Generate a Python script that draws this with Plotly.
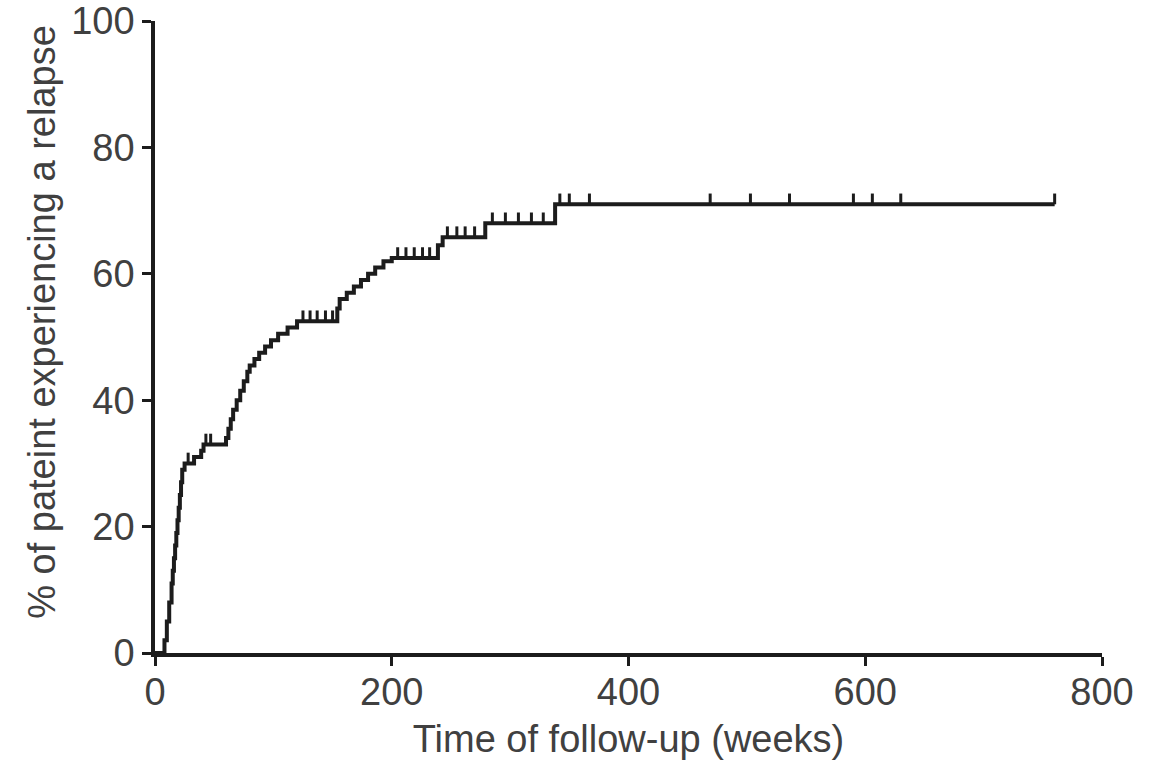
import plotly.graph_objects as go
import numpy as np

# Event times (weeks) and cumulative % of patients relapsed after each event
event_weeks = [0, 8, 10, 12, 14, 15, 16, 17, 18, 19, 20, 21, 22, 23, 25, 33, 39, 41,
               60, 62, 64, 66, 69, 72, 75, 78, 80, 84, 88, 93, 98, 104, 112, 120,
               154, 156, 162, 168, 174, 180, 186, 193, 200,
               239, 243, 279, 338, 760]
relapse_pct = [0, 2, 5, 8, 11, 13, 15, 17, 19, 21, 23, 25, 27, 29, 30, 31, 32, 33,
               34, 35.5, 37, 38.5, 40, 41.5, 43, 44.5, 45.5, 46.5, 47.5, 48.5, 49.5, 50.5, 51.5, 52.5,
               54.5, 56, 57, 58, 59, 60, 61, 62, 62.5,
               64.5, 65.8, 68, 71, 71]

# Censored observations (weeks)
censor_weeks = [28, 43, 47, 125, 131, 137, 144, 150, 205, 212, 219, 226, 232,
                247, 255, 262, 270, 285, 296, 307, 318, 328,
                342, 350, 367, 469, 503, 536, 590, 606, 630, 760]

x_ticks = [0, 200, 400, 600, 800]
y_ticks = [0, 20, 40, 60, 80, 100]

# y of curve at each censor time (step lookup)
ev = np.array(event_weeks)
pc = np.array(relapse_pct)
censor_pct = [float(pc[np.searchsorted(ev, c, side="right") - 1]) for c in censor_weeks]

INK = "#1c1c1c"
TXT = "#404040"
FONT = "Liberation Sans, Arial, sans-serif"

fig = go.Figure()
fig.add_trace(go.Scatter(
    x=event_weeks, y=relapse_pct, mode="lines", line_shape="hv",
    line=dict(color=INK, width=4), cliponaxis=False, showlegend=False,
))
fig.add_trace(go.Scatter(
    x=censor_weeks, y=censor_pct, mode="markers",
    marker=dict(size=1, color=INK, opacity=0),
    error_y=dict(type="constant", value=1.7, valueminus=0, symmetric=False,
                 thickness=3, width=0, color=INK),
    cliponaxis=False, showlegend=False,
))

axis_common = dict(
    showline=True, linewidth=3.5, linecolor=INK, mirror=False,
    ticks="outside", ticklen=9, tickwidth=2.5, tickcolor=INK,
    showgrid=False, zeroline=False, automargin=False, ticklabeloverflow="allow",
    tickfont=dict(family=FONT, size=38, color=TXT),
)
fig.update_layout(
    width=1160, height=765,
    margin=dict(l=155, r=58, t=21, b=112),
    paper_bgcolor="white", plot_bgcolor="white",
    xaxis=dict(range=[0, 800], tickvals=x_ticks, ticklabelstandoff=-6, **axis_common,
               title=dict(text="Time of follow-up (weeks)", standoff=14,
                          font=dict(family=FONT, size=38, color=TXT))),
    yaxis=dict(range=[0, 100], tickvals=y_ticks, **axis_common),
    annotations=[dict(
        text="% of pateint experiencing a relapse", textangle=-90,
        xref="paper", yref="paper", x=0, y=0.524, xanchor="center", yanchor="middle",
        xshift=-113, showarrow=False, font=dict(family=FONT, size=38, color=TXT),
    )],
)
# remove the browser's default 8px body margin so the figure fills the window
fig.write_html("out.html", config={"displayModeBar": False},
               post_script="document.body.style.margin='0';")
